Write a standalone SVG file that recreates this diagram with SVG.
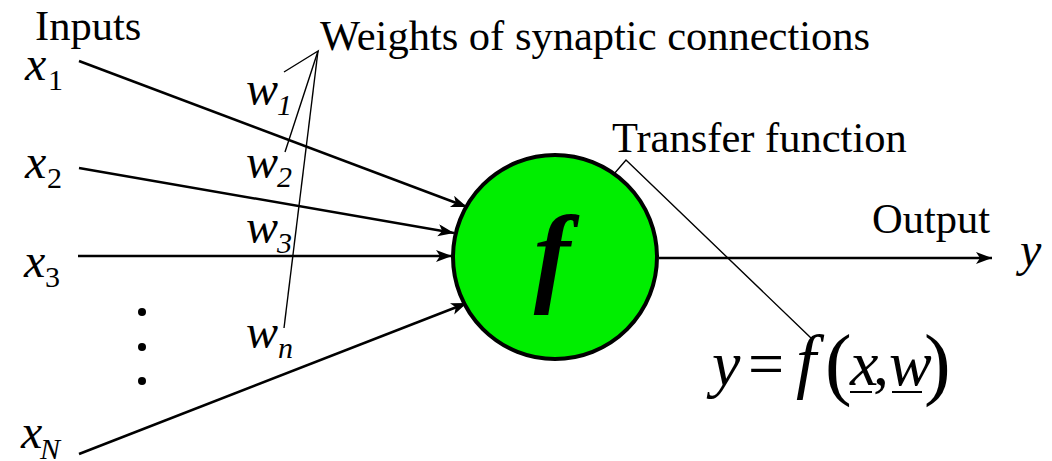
<svg xmlns="http://www.w3.org/2000/svg" width="1052" height="461" viewBox="0 0 1052 461">
<defs>
<style>
text{font-family:"Liberation Serif","Times New Roman",serif;fill:#000}
.lbl{font-size:42.5px}
.it{font-style:italic}
.big{font-size:48px}
.sub{font-size:30px}
.eq{font-size:64px}
.par{font-size:80px}
.conn{stroke:#000;stroke-width:2.5;fill:none}
.ptr{stroke:#000;stroke-width:1.4;fill:none}
.ul{stroke:#000;stroke-width:2}
</style>
<marker id="ah" markerUnits="userSpaceOnUse" markerWidth="20" markerHeight="14" refX="16" refY="6" orient="auto">
<path d="M0,0 L16,6 L0,12 L4,6 Z" fill="#000"/>
</marker>
</defs>
<rect width="1052" height="461" fill="#fff"/>
<g id="connectors">
<line class="conn" x1="79" y1="61" x2="467" y2="207" marker-end="url(#ah)"/>
<line class="conn" x1="79" y1="168" x2="454" y2="233" marker-end="url(#ah)"/>
<line class="conn" x1="78" y1="256" x2="452" y2="256" marker-end="url(#ah)"/>
<line class="conn" x1="79" y1="454" x2="467" y2="303" marker-end="url(#ah)"/>
<line class="conn" x1="659" y1="258" x2="992" y2="258" marker-end="url(#ah)"/>
<polyline class="ptr" points="284,72 318,51 285,152"/>
<line class="ptr" x1="318" y1="51" x2="284" y2="328"/>
<polyline class="ptr" points="589,203 626,160 811,338"/>
</g>
<g id="neuron">
<circle cx="555" cy="257" r="102" fill="#00ee00" stroke="#000" stroke-width="4"/>
<text x="552" y="292" font-size="110" font-style="italic" font-weight="bold" text-anchor="middle">f</text>
</g>
<g id="labels">
<text class="lbl" x="35" y="40">Inputs</text>
<text class="lbl" x="320" y="50">Weights of synaptic connections</text>
<text class="lbl" x="612" y="152">Transfer function</text>
<text class="lbl" x="872" y="233">Output</text>
</g>
<g id="inputs">
<text><tspan class="it big" x="25" y="80">x</tspan><tspan class="sub" x="48" y="90">1</tspan></text>
<text><tspan class="it big" x="25" y="178">x</tspan><tspan class="sub" x="47" y="188">2</tspan></text>
<text><tspan class="it big" x="24" y="277">x</tspan><tspan class="sub" x="45" y="287">3</tspan></text>
<text><tspan class="it big" x="21" y="448">x</tspan><tspan class="it sub" x="40" y="459">N</tspan></text>
<circle cx="142" cy="312" r="4"/>
<circle cx="142" cy="347" r="4"/>
<circle cx="142" cy="381" r="4"/>
</g>
<g id="weights">
<text class="it"><tspan class="big" x="246" y="105">w</tspan><tspan class="sub" x="277" y="115">1</tspan></text>
<text class="it"><tspan class="big" x="246" y="178">w</tspan><tspan class="sub" x="277" y="187">2</tspan></text>
<text class="it"><tspan class="big" x="246" y="243">w</tspan><tspan class="sub" x="277" y="253">3</tspan></text>
<text class="it"><tspan class="big" x="246" y="348">w</tspan><tspan class="sub" x="278" y="358">n</tspan></text>
</g>
<g id="output">
<text class="it big" x="1020" y="266">y</text>
</g>
<g id="equation">
<text class="eq"><tspan class="it" x="712" y="385">y</tspan><tspan x="748" y="385">=</tspan><tspan class="it" x="796" y="385" font-size="72">f</tspan><tspan class="par" x="825" y="390">(</tspan><tspan class="it" x="850" y="385">x</tspan><tspan x="873" y="385">,</tspan><tspan class="it" x="889" y="385">w</tspan><tspan class="par" x="924" y="390">)</tspan></text>
<line class="ul" x1="850" y1="392" x2="872" y2="392"/>
<line class="ul" x1="892" y1="392" x2="922" y2="392"/>
</g>
</svg>
